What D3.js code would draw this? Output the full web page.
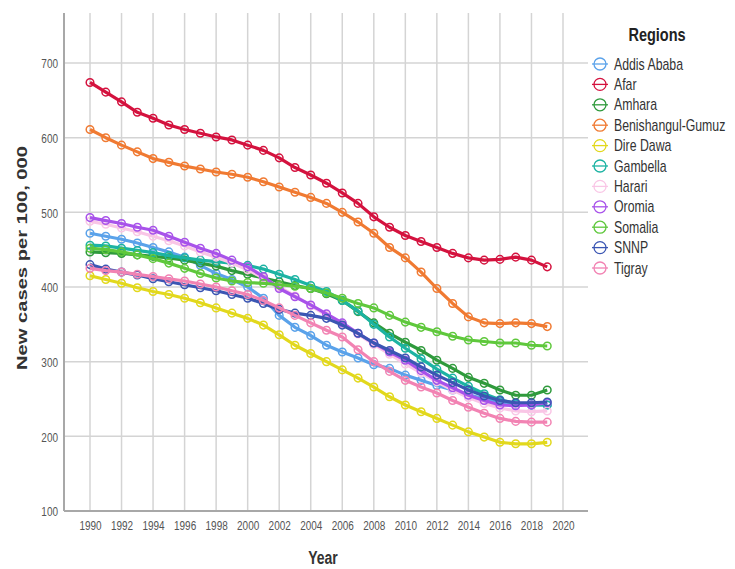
<!DOCTYPE html>
<html>
<head>
<meta charset="utf-8">
<script src="https://cdn.jsdelivr.net/npm/d3@7"></script>
<style>
  body { margin: 0; background: #fff; }
  svg { font-family: "Liberation Sans", Arial, sans-serif; }
</style>
</head>
<body>
<div id="canvas"></div>
<script>
let years = d3.range(1990, 2020);

let regions = ['Addis Ababa', 'Afar', 'Amhara', 'Benishangul-Gumuz', 'Dire Dawa', 'Gambella',
  'Harari', 'Oromia', 'Somalia', 'SNNP', 'Tigray'];

let colors = ['#5aa2ea', '#d4123e', '#2f9a3c', '#f07a32', '#e2d81c', '#1cb3a3',
  '#f9c6e6', '#a852ea', '#5fc83c', '#3b56b3', '#f283b3'];

let addisAbaba = [472, 468, 464, 459, 453, 447, 440, 429, 418, 410, 400, 385, 362, 346, 335, 322,
  313, 305, 296, 291, 282, 275, 268, 262, 256, 250, 246, 243, 242, 242];
let afar = [674, 661, 648, 634, 626, 617, 611, 606, 601, 597, 590, 583, 573, 560, 550, 539,
  526, 512, 494, 480, 469, 461, 453, 445, 439, 436, 437, 440, 436, 427];
let amhara = [447, 446, 445, 443, 441, 439, 436, 432, 428, 422, 417, 412, 407, 402, 398, 391,
  382, 367, 352, 338, 326, 315, 302, 291, 279, 271, 262, 255, 255, 262];
let benishangul = [611, 600, 590, 581, 572, 567, 562, 558, 554, 551, 547, 541, 534, 527, 520, 512,
  500, 487, 472, 453, 439, 420, 398, 378, 360, 352, 351, 352, 351, 347];
let direDawa = [415, 410, 405, 399, 394, 390, 385, 379, 372, 365, 358, 349, 336, 322, 311, 300,
  289, 278, 266, 253, 242, 233, 224, 215, 206, 199, 192, 190, 190, 192];
let gambella = [456, 455, 452, 449, 446, 442, 439, 436, 434, 432, 429, 424, 417, 410, 402, 394,
  382, 368, 350, 333, 318, 304, 290, 278, 267, 257, 249, 244, 242, 242];
let harari = [488, 484, 479, 474, 468, 462, 455, 447, 440, 432, 423, 412, 400, 388, 375, 362,
  350, 337, 323, 310, 297, 285, 273, 262, 252, 244, 238, 234, 233, 234];
let oromia = [493, 489, 485, 480, 476, 468, 460, 452, 445, 436, 427, 414, 398, 387, 376, 364,
  352, 338, 325, 313, 302, 288, 275, 265, 255, 248, 242, 241, 242, 245];
let somalia = [452, 450, 447, 443, 438, 432, 425, 418, 412, 408, 406, 405, 403, 401, 398, 392,
  385, 378, 372, 362, 353, 346, 340, 334, 329, 327, 325, 325, 322, 321];
let snnp = [430, 424, 420, 416, 411, 407, 403, 399, 395, 390, 385, 378, 370, 365, 362, 358,
  349, 338, 325, 315, 305, 293, 282, 272, 262, 254, 248, 245, 245, 246];
let tigray = [425, 422, 420, 417, 414, 411, 408, 404, 400, 395, 390, 382, 372, 362, 352, 342,
  333, 316, 300, 287, 275, 266, 258, 248, 239, 231, 224, 220, 219, 219];

let seriesValues = [addisAbaba, afar, amhara, benishangul, direDawa, gambella,
  harari, oromia, somalia, snnp, tigray];

let xTicks = d3.range(1990, 2021, 2);
let yTicks = [100, 200, 300, 400, 500, 600, 700];

let width = 735, height = 569;
let plotLeft = 64, plotRight = 588, plotTop = 13, plotBottom = 511;
let stretch = 1.35; // the picture's text is taller than it is wide

let x = d3.scaleLinear().domain([1990, 2020]).range([90, 563]);
let y = d3.scaleLinear().domain([100, 767]).range([plotBottom, plotTop]);

let svg = d3.select('#canvas').append('svg')
  .attr('width', width)
  .attr('height', height);

// grid
svg.append('g')
  .selectAll('line')
  .data(xTicks)
  .enter()
  .append('line')
  .attr('x1', d => x(d))
  .attr('x2', d => x(d))
  .attr('y1', plotTop)
  .attr('y2', plotBottom)
  .attr('stroke', '#d4d4d4')
  .attr('stroke-width', 1.5);

svg.append('g')
  .selectAll('line')
  .data(yTicks.slice(1))
  .enter()
  .append('line')
  .attr('x1', plotLeft)
  .attr('x2', plotRight)
  .attr('y1', d => y(d))
  .attr('y2', d => y(d))
  .attr('stroke', '#d4d4d4')
  .attr('stroke-width', 1.5);

// axes
let xAxis = svg.append('g')
  .attr('transform', 'translate(0,' + plotBottom + ')')
  .call(d3.axisBottom(x).tickValues(xTicks).tickFormat(d3.format('d')).tickSize(0));
xAxis.select('.domain').remove();
xAxis.selectAll('.tick text')
  .attr('y', 0)
  .attr('dy', '0.35em')
  .attr('transform', 'translate(0,14) scale(1,' + stretch + ')');

let yAxis = svg.append('g')
  .attr('transform', 'translate(' + plotLeft + ',0)')
  .call(d3.axisLeft(y).tickValues(yTicks).tickSize(0));
yAxis.select('.domain').remove();
yAxis.selectAll('.tick text')
  .attr('x', -6)
  .attr('dy', '0.35em')
  .attr('transform', 'scale(1,' + stretch + ')');

svg.selectAll('.tick text')
  .attr('font-family', '"Liberation Sans", Arial, sans-serif')
  .attr('font-size', 10)
  .attr('fill', '#555');

svg.append('line')
  .attr('x1', plotLeft).attr('x2', plotLeft)
  .attr('y1', plotTop).attr('y2', plotBottom)
  .attr('stroke', '#a8a8a8').attr('stroke-width', 2);
svg.append('line')
  .attr('x1', plotLeft).attr('x2', plotRight)
  .attr('y1', plotBottom).attr('y2', plotBottom)
  .attr('stroke', '#a8a8a8').attr('stroke-width', 2);

// titles
svg.append('text')
  .attr('transform', 'translate(27,258) rotate(-90) scale(' + 1.3 + ',1)')
  .attr('text-anchor', 'middle')
  .attr('font-size', 15.5)
  .attr('font-weight', 'bold')
  .attr('fill', '#333')
  .text('New cases per 100, 000');

svg.append('text')
  .attr('transform', 'translate(323,564) scale(1,' + stretch + ')')
  .attr('text-anchor', 'middle')
  .attr('font-size', 14)
  .attr('font-weight', 'bold')
  .attr('fill', '#333')
  .text('Year');

// lines
let line = d3.line()
  .x((d, i) => x(years[i]))
  .y(d => y(d));

let series = svg.append('g')
  .selectAll('g')
  .data(seriesValues)
  .enter()
  .append('g');

series.append('path')
  .attr('d', d => line(d))
  .attr('fill', 'none')
  .attr('stroke', (d, i) => colors[i])
  .attr('stroke-width', 3.2)
  .attr('stroke-linejoin', 'round');

series.each(function(vals, k) {
  d3.select(this).selectAll('circle')
    .data(vals)
    .enter()
    .append('circle')
    .attr('cx', (d, i) => x(years[i]))
    .attr('cy', d => y(d))
    .attr('r', 3.8)
    .attr('fill', 'none')
    .attr('stroke', colors[k])
    .attr('stroke-width', 1.5);
});

// legend
svg.append('text')
  .attr('transform', 'translate(657,41) scale(1,1.3)')
  .attr('text-anchor', 'middle')
  .attr('font-size', 14.5)
  .attr('font-weight', 'bold')
  .attr('fill', '#222')
  .text('Regions');

let legend = svg.append('g')
  .selectAll('g')
  .data(regions)
  .enter()
  .append('g')
  .attr('transform', (d, i) => 'translate(600,' + (64 + i * 20.4) + ')');

legend.append('line')
  .attr('x1', -8).attr('x2', 8)
  .attr('stroke', (d, i) => colors[i])
  .attr('stroke-width', 1.3);

legend.append('circle')
  .attr('r', 6)
  .attr('fill', 'none')
  .attr('stroke', (d, i) => colors[i])
  .attr('stroke-width', 1.3);

legend.append('text')
  .attr('x', 14)
  .attr('dy', '0.35em')
  .attr('transform', 'scale(1,1.3)')
  .attr('font-size', 12.3)
  .attr('fill', '#333')
  .text(d => d);
</script>
</body>
</html>
